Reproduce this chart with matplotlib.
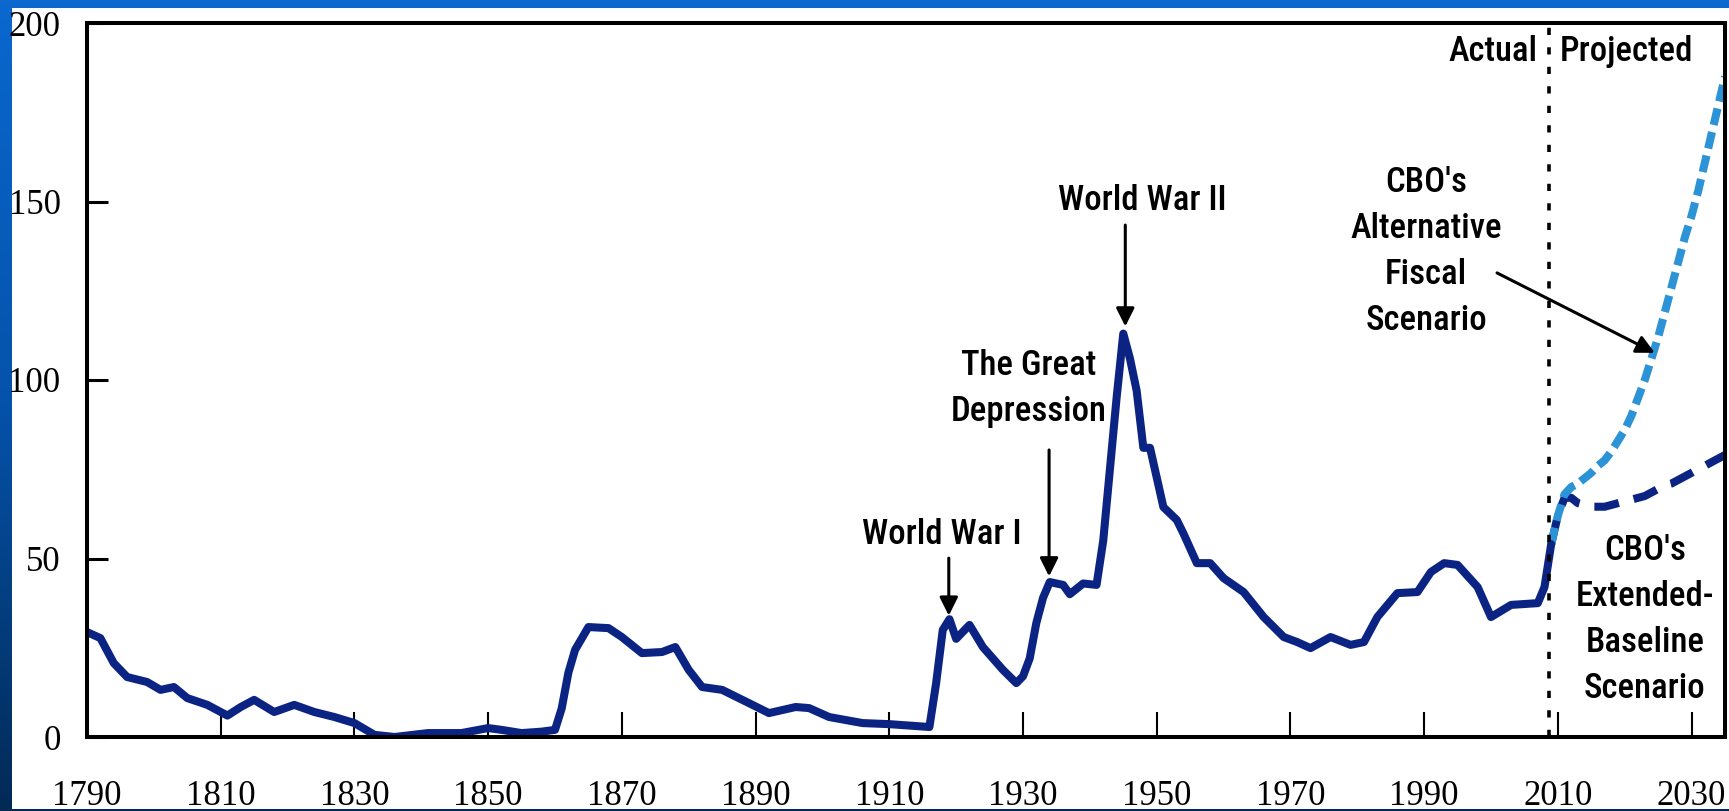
import numpy as np
import matplotlib
matplotlib.use("Agg")
import matplotlib.pyplot as plt
from matplotlib import font_manager
from matplotlib.colors import LinearSegmentedColormap
from matplotlib.patches import Rectangle

# Federal debt held by the public, percent of GDP
actual_years = [1790, 1792, 1794, 1796, 1799, 1801, 1803, 1805, 1808, 1811, 1813, 1815,
                1818, 1821, 1824, 1827, 1830, 1833, 1836, 1841, 1846, 1850, 1852, 1855,
                1858, 1860, 1861, 1862, 1863, 1865, 1868, 1870, 1873, 1876, 1878, 1880,
                1882, 1885, 1889, 1892, 1896, 1898, 1901, 1906, 1910, 1916, 1917, 1918,
                1919, 1920, 1922, 1924, 1927, 1929, 1930, 1931, 1932, 1933, 1934, 1936,
                1937, 1939, 1941, 1942, 1943, 1944, 1945, 1946, 1947, 1948, 1949, 1951,
                1953, 1954, 1956, 1958, 1960, 1963, 1966, 1969, 1971, 1973, 1976, 1979,
                1981, 1983, 1986, 1989, 1991, 1993, 1995, 1998, 2000, 2003, 2007, 2008,
                2009]
actual_debt = [29.4, 27.7, 20.7, 16.8, 15.4, 13.2, 14.0, 10.9, 9.0, 6.0, 8.4, 10.4,
               7.0, 9.0, 7.0, 5.6, 3.9, 0.6, 0.0, 1.1, 1.1, 2.5, 2.0, 1.1,
               1.5, 2.0, 8.0, 18.0, 24.4, 30.8, 30.5, 28.0, 23.5, 23.8, 25.2, 18.8,
               14.0, 13.2, 9.5, 6.7, 8.4, 8.1, 5.6, 3.9, 3.6, 2.8, 15.0, 30.0,
               33.0, 27.5, 31.4, 25.2, 18.8, 15.1, 17.0, 22.0, 32.0, 39.0, 43.4, 42.6,
               40.0, 43.0, 42.6, 55.0, 75.0, 95.0, 113.0, 106.0, 97.0, 81.0, 81.0, 64.4,
               60.8, 57.0, 48.7, 48.7, 44.5, 40.6, 33.6, 28.0, 26.6, 24.9, 28.0, 25.8,
               26.6, 33.6, 40.3, 40.6, 46.2, 48.7, 48.2, 42.0, 33.6, 37.0, 37.5, 42.0,
               54.0]

proj_years = list(range(2009, 2036))
baseline_debt = [54, 62, 67, 67, 65.5, 65, 64.5, 64.5, 64.5, 65, 65.5, 66, 66.5, 67,
                 67.5, 68.5, 69.5, 70.5, 71, 72, 73, 74, 75, 76, 77, 78, 79]
alternative_debt = [54, 62, 68, 70, 71, 72.5, 74, 76, 77.5, 80, 83, 86, 90, 95,
                    100, 106, 112, 119, 126, 133, 140, 146, 153, 161, 169, 177, 185]

x_ticks = list(range(1790, 2031, 20))
y_ticks = [0, 50, 100, 150, 200]

NAVY = "#0b2484"
LIGHT = "#2b93d6"


def pick_narrow_font():
    entries = font_manager.fontManager.ttflist
    names = {f.name for f in entries}
    for name in ("Liberation Sans Narrow", "Roboto Condensed", "Open Sans Condensed",
                 "Noto Sans Condensed", "DejaVu Sans Condensed"):
        if name in names:
            return name, "normal", True
    for f in entries:
        if f.name in ("DejaVu Sans", "Noto Sans", "Open Sans", "Roboto") and "condensed" in str(f.stretch):
            return f.name, f.stretch, True
    return "DejaVu Sans", "normal", False


narrow_family, narrow_stretch, is_narrow = pick_narrow_font()
note_size = 25 if is_narrow else 19
note_kw = dict(family=narrow_family, fontstretch=narrow_stretch, fontsize=note_size,
               fontweight="medium", color="black", linespacing=1.5)

plt.rcParams["font.family"] = ["Liberation Serif", "DejaVu Serif"]

W, H = 1729, 811
fig = plt.figure(figsize=(W / 100, H / 100), dpi=100)

# slide backdrop: blue gradient with a white panel
bg = fig.add_axes([0, 0, 1, 1], zorder=0)
bg.axis("off")
slide_cmap = LinearSegmentedColormap.from_list("slide", ["#0a68cf", "#0552aa", "#022a55"])
bg.imshow(np.linspace(0, 1, 256).reshape(-1, 1), aspect="auto", cmap=slide_cmap,
          extent=[0, 1, 0, 1], origin="upper")
fig.add_artist(Rectangle((12 / W, 2 / H), (W - 12) / W, (809 - 8) / H,
                         transform=fig.transFigure, facecolor="white",
                         edgecolor="none", zorder=1))

ax = fig.add_axes([87 / W, (H - 737) / H, (1725 - 87) / W, (737 - 23) / H], zorder=2)
ax.set_facecolor("white")

ax.plot(proj_years, baseline_debt, color=NAVY, lw=5.8, linestyle=(0, (3.1, 1.9)))
ax.plot(proj_years, alternative_debt, color=LIGHT, lw=5.8, linestyle=(0, (2.1, 0.9)))
ax.plot(actual_years, actual_debt, color=NAVY, lw=5.8, solid_joinstyle="round",
        solid_capstyle="round")

ax.axvline(2008.7, color="black", lw=2.6, linestyle=(0, (2.0, 3.4)))

ax.set_xlim(1790.3, 2035)
ax.set_ylim(0, 200)
ax.set_xticks(x_ticks)
ax.set_yticks(y_ticks)
ax.tick_params(axis="x", direction="in", length=18, width=1.5, pad=31, labelsize=25)
ax.tick_params(axis="y", direction="in", length=15, width=2.2, pad=19, labelsize=25)
for side in ("left", "right", "top", "bottom"):
    ax.spines[side].set_linewidth(2.9)
    ax.spines[side].set_color("black")

arrow_kw = dict(arrowstyle="-|>,head_length=0.5,head_width=0.25", color="black",
                lw=2.2, mutation_scale=22, shrinkA=0, shrinkB=0)

ax.text(1947.8, 150.4, "World War II", ha="center", va="center", **note_kw)
ax.annotate("", xy=(1945.3, 115), xytext=(1945.3, 143.4), arrowprops=arrow_kw)

ax.text(1930.9, 97.5, "The Great\nDepression", ha="center", va="center", **note_kw)
ax.annotate("", xy=(1933.9, 45), xytext=(1933.9, 80.4), arrowprops=arrow_kw)

ax.text(1917.9, 56.6, "World War I", ha="center", va="center", **note_kw)
ax.annotate("", xy=(1918.9, 34), xytext=(1918.9, 50.1), arrowprops=arrow_kw)

ax.text(1990.3, 135.9, "CBO's\nAlternative\nFiscal\nScenario", ha="center", va="center",
        **note_kw)
ax.annotate("", xy=(2024.5, 107.6), xytext=(2000.9, 130), arrowprops=arrow_kw)

ax.text(2023.0, 33, "CBO's\nExtended-\nBaseline\nScenario", ha="center", va="center",
        **note_kw)

ax.text(2006.9, 191.9, "Actual", ha="right", va="center", **note_kw)
ax.text(2010.3, 191.9, "Projected", ha="left", va="center", **note_kw)

fig.savefig("out.png", dpi=100)
